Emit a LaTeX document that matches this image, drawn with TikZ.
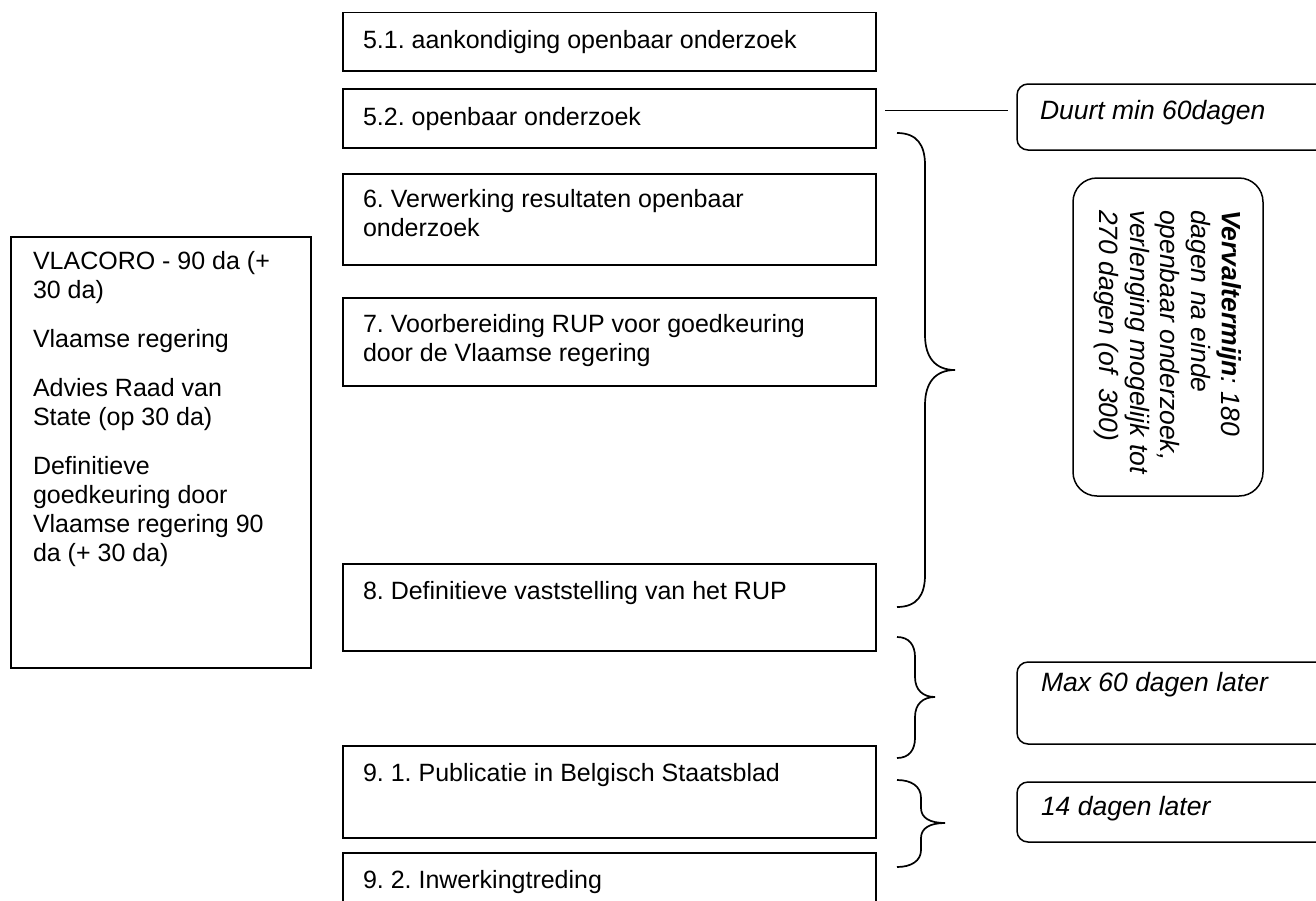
\documentclass[tikz,border=0pt]{standalone}
\usepackage{fontspec}
\setmainfont{Liberation Sans}
\usetikzlibrary{calc}
\frenchspacing
\begin{document}
\begin{tikzpicture}[x=1pt,y=-1pt,
  box/.style={draw, line width=1.5pt, inner sep=0pt, outer sep=0pt, anchor=north west},
  colbox/.style={box, minimum width=533pt},
  rbox/.style={box, rounded corners=11pt},
  txt/.style={anchor=north west, inner sep=0pt, outer sep=0pt, align=left, font=\fontsize{25}{29}\selectfont},
  itxt/.style={txt, font=\fontsize{26.5}{30.5}\selectfont\itshape},
  bracepath/.style={line width=1.7pt}]
\clip (0,0) rectangle (1316,900);
\fill[white] (0,0) rectangle (1316,900);

% central column
\node[colbox, minimum height=58.5pt] (b51) at (343,12.5) {};
\node[txt] (t51) at ([xshift=20pt,yshift=-18pt]b51.north west) {5.1. aankondiging openbaar onderzoek};
\node[colbox, minimum height=59pt] (b52) at (343,89) {};
\node[txt] (t52) at ([xshift=20pt,yshift=-18pt]b52.north west) {5.2. openbaar onderzoek};
\node[colbox, minimum height=91pt] (b6) at (343,174) {};
\node[txt] (t6) at ([xshift=20pt,yshift=-15pt]b6.north west) {6. Verwerking resultaten openbaar\\onderzoek};
\node[colbox, minimum height=88pt] (b7) at (343,298) {};
\node[txt] (t7) at ([xshift=20pt,yshift=-16pt]b7.north west) {7. Voorbereiding RUP voor goedkeuring\\door de Vlaamse regering};
\node[colbox, minimum height=87pt] (b8) at (343,564) {};
\node[txt] (t8) at ([xshift=20pt,yshift=-17pt]b8.north west) {8. Definitieve vaststelling van het RUP};
\node[colbox, minimum height=92pt] (b91) at (343,746) {};
\node[txt] (t91) at ([xshift=20pt,yshift=-17pt]b91.north west) {9. 1. Publicatie in Belgisch Staatsblad};
\node[colbox, minimum height=90pt] (b92) at (343,853) {};
\node[txt] (t92) at ([xshift=20pt,yshift=-17pt]b92.north west) {9. 2. Inwerkingtreding};

% left box
\node[box, minimum width=300pt, minimum height=431pt] (lb) at (11,237) {};
\node[txt] (tl) at ([xshift=22pt,yshift=-14pt]lb.north west) {VLACORO - 90 da (+\\30 da)\\[20pt]Vlaamse regering\\[20pt]Advies Raad van\\State (op 30 da)\\[20pt]Definitieve\\goedkeuring door\\Vlaamse regering 90\\da (+ 30 da)};

% right boxes
\node[rbox, minimum width=313pt, minimum height=66pt] (duurt) at (1017,84) {};
\node[itxt] (tduurt) at ([xshift=23pt,yshift=-16pt]duurt.north west) {Duurt min 60dagen};
\node[rbox, rounded corners=24pt, minimum width=190pt, minimum height=318pt] (verv) at (1073,178) {};
\node[itxt, rotate=-90, anchor=north west] (tverv) at ([xshift=-22pt,yshift=-32pt]verv.north east)
  {\textbf{Vervaltermijn}: 180\\dagen na einde\\openbaar onderzoek,\\verlenging mogelijk tot\\270 dagen (of\ \ 300)};
\node[rbox, minimum width=313pt, minimum height=82pt] (max) at (1017,662) {};
\node[itxt] (tmax) at ([xshift=24pt,yshift=-10pt]max.north west) {Max 60 dagen later};
\node[rbox, minimum width=313pt, minimum height=60pt] (veertien) at (1017,782) {};
\node[itxt] (tveertien) at ([xshift=24pt,yshift=-14pt]veertien.north west) {14 dagen later};

% connector
\draw[line width=1.5pt] ($(b52.east)+(9,-8)$) -- ($(b52.east -| duurt.west)+(-9,-8)$);

% braces
\draw[bracepath] (897,133) .. controls (917,133) and (925,145) .. (925,165) -- (925,335)
  .. controls (925,357) and (935,370) .. (955,370)
  .. controls (935,370) and (925,383) .. (925,405) -- (925,575)
  .. controls (925,595) and (917,607) .. (897,607);
\draw[bracepath] (897,637) .. controls (909,637) and (915,645) .. (915,657) -- (915,677)
  .. controls (915,690) and (923,697) .. (935,697)
  .. controls (923,697) and (915,704) .. (915,717) -- (915,738)
  .. controls (915,750) and (909,758) .. (897,758);
\draw[bracepath] (897,780) .. controls (911,780) and (921,786) .. (921,798) -- (921,808)
  .. controls (921,818) and (930,823) .. (945,823)
  .. controls (930,823) and (921,828) .. (921,838) -- (921,850)
  .. controls (921,861) and (911,867) .. (897,867);
\end{tikzpicture}
\end{document}
